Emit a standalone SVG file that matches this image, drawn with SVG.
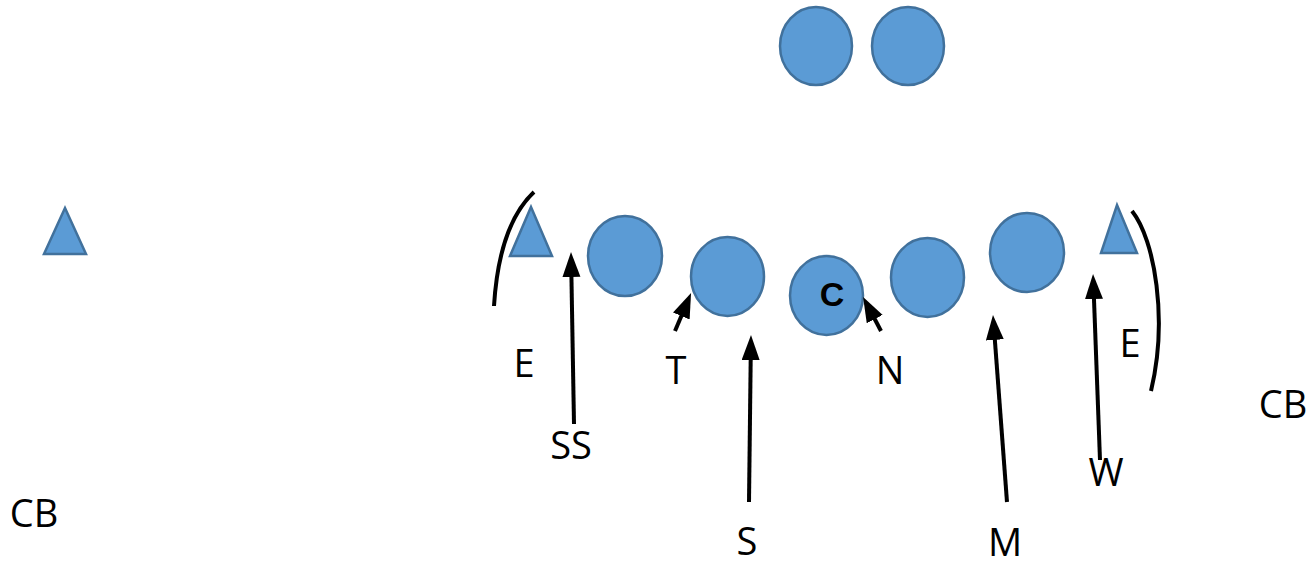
<svg xmlns="http://www.w3.org/2000/svg" width="1314" height="567" viewBox="0 0 1314 567">
<style>
.p{fill:#5B9BD5;stroke:#41719C;stroke-width:2.5}
.l{font-family:"Open Sans","Liberation Sans",sans-serif;font-size:38px;fill:#000;text-anchor:middle}
.c{font-family:"Liberation Sans",Arial,sans-serif;font-size:34px;font-weight:bold;fill:#000;text-anchor:middle}
.ar{stroke:#000;stroke-width:4;fill:none;marker-end:url(#ah)}
.arc{stroke:#000;stroke-width:4;fill:none}
</style>
<defs>
<marker id="ah" markerUnits="userSpaceOnUse" markerWidth="28" markerHeight="20" viewBox="0 0 28 20" refX="2" refY="9" orient="auto">
<path d="M0,0 L25,9 L0,18 z" fill="#000"/>
</marker>
</defs>
<rect width="1314" height="567" fill="#fff"/>
<g id="back1"><ellipse class="p" cx="816" cy="46" rx="36" ry="39"/></g>
<g id="back2"><ellipse class="p" cx="908" cy="46" rx="36" ry="39"/></g>
<g id="cb-left-tri"><polygon class="p" points="65,208 86,254 44,254"/></g>
<g id="end-left"><polygon class="p" points="531,207 552,256 510,256"/></g>
<g id="lineman1"><ellipse class="p" cx="625" cy="256" rx="37" ry="40"/></g>
<g id="lineman2"><ellipse class="p" cx="727.5" cy="276.5" rx="36.5" ry="39.5"/></g>
<g id="center"><ellipse class="p" cx="826.5" cy="295.5" rx="36.5" ry="39.5"/><text class="c" x="832" y="306">C</text></g>
<g id="lineman4"><ellipse class="p" cx="927.5" cy="277.5" rx="36.5" ry="39.5"/></g>
<g id="lineman5"><ellipse class="p" cx="1027" cy="252.5" rx="37" ry="39.5"/></g>
<g id="end-right"><polygon class="p" points="1117,205 1137,253 1101,253"/></g>
<g id="connectors">
<path class="arc" d="M534,192 Q499,225 494,306"/>
<path class="arc" d="M1132,211 C1155,240 1168,320 1151,391"/>
<line class="ar" x1="574" y1="424" x2="571.4" y2="275"/>
<line class="ar" x1="675" y1="331" x2="682.1" y2="314.2"/>
<line class="ar" x1="749" y1="502" x2="750.7" y2="358"/>
<line class="ar" x1="881" y1="331" x2="873.8" y2="317.3"/>
<line class="ar" x1="1007" y1="502" x2="994.7" y2="337.9"/>
<line class="ar" x1="1100" y1="460" x2="1093.9" y2="297"/>
</g>
<g id="labels">
<text class="l" x="524" y="377">E</text>
<text class="l" x="676" y="384">T</text>
<text class="l" x="571" y="459">SS</text>
<text class="l" x="747" y="555">S</text>
<text class="l" x="890" y="384">N</text>
<text class="l" x="1130" y="357">E</text>
<text class="l" x="1106" y="486">W</text>
<text class="l" x="1005" y="556">M</text>
<text class="l" x="1283" y="418">CB</text>
<text class="l" x="34" y="527">CB</text>
</g>
</svg>
